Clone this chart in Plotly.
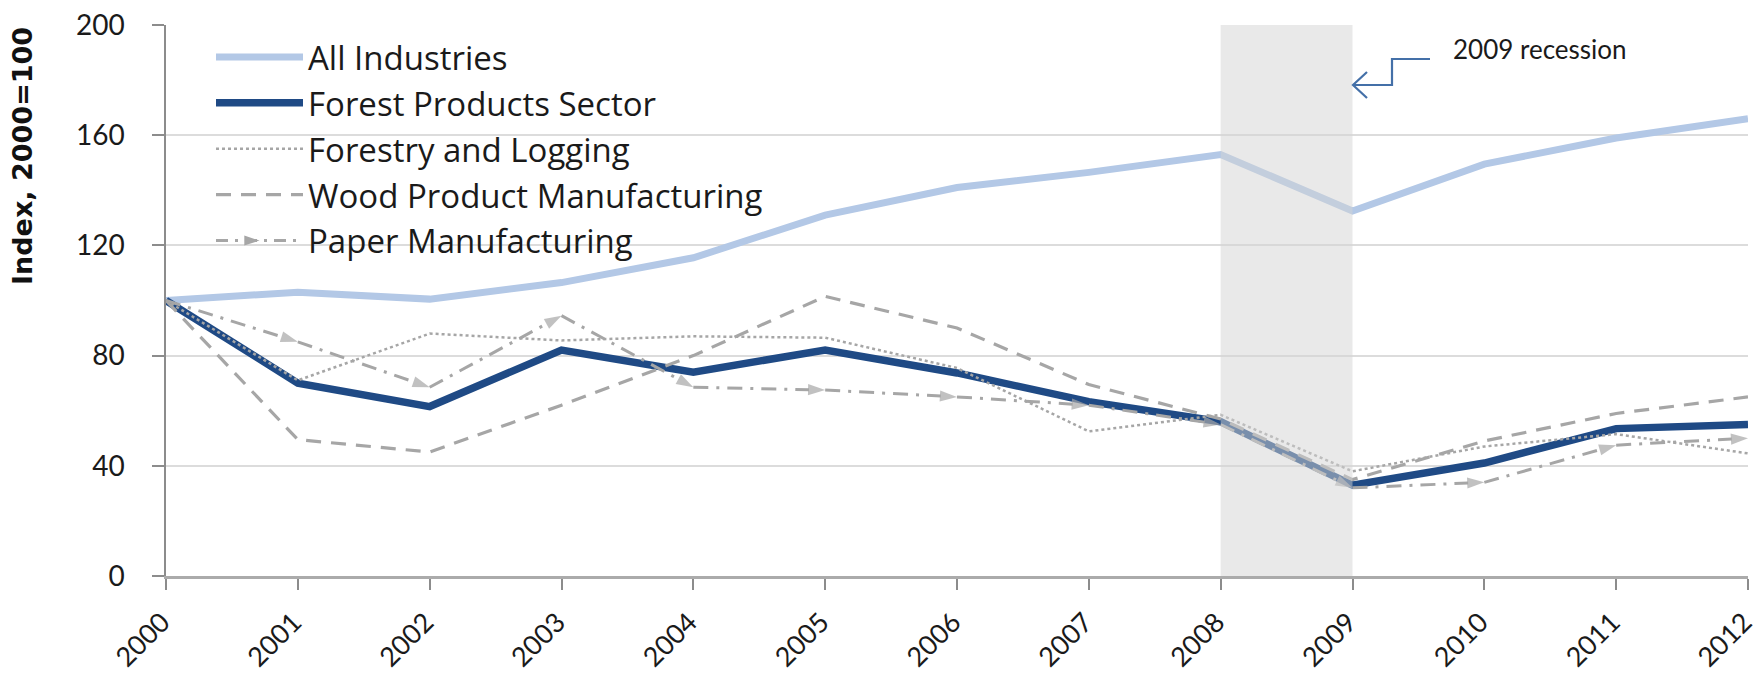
import plotly.graph_objects as go

# Employment index by industry, 2000 = 100
years = [2000, 2001, 2002, 2003, 2004, 2005, 2006, 2007, 2008, 2009, 2010, 2011, 2012]
all_industries = [100, 103, 100.5, 106.5, 115.5, 131, 141, 146.5, 153, 132.5, 149.5, 159, 166]
forest_products = [100, 70, 61.5, 82, 74, 82, 73.7, 63.3, 56, 33, 41, 53.5, 55]
forestry_logging = [100, 71, 88, 85.5, 87, 86.5, 75.5, 52.5, 58.5, 38, 47, 51.5, 44.5]
wood_products = [100, 49.5, 45, 62, 80, 101.5, 90, 69.5, 57, 35, 49, 59, 65]
paper_mfg = [100, 85, 68.5, 94.5, 68.5, 67.5, 65, 62, 55, 32, 34, 47.5, 50]

y_ticks = [0, 40, 80, 120, 160, 200]
recession = (2008, 2009)

W, H = 1760, 687
ML, MR, MT, MB = 166, 12, 25, 111
PW, PH = W - ML - MR, H - MT - MB


def px_x(p):
    return (p - ML) / PW


def px_y(p):
    return (H - MB - p) / PH


GRAY = "#a6a6a6"
FONT = "Lato"

fig = go.Figure()

fig.add_trace(go.Scatter(
    x=years, y=all_industries, name="All Industries", mode="lines",
    line=dict(color="#b3c8e6", width=7), legendgroup="a",
))
fig.add_trace(go.Scatter(
    x=years, y=forest_products, name="Forest Products Sector", mode="lines",
    line=dict(color="#1f4a85", width=7.5), legendgroup="b",
))
fig.add_trace(go.Scatter(
    x=years, y=forestry_logging, name="Forestry and Logging", mode="lines",
    line=dict(color=GRAY, width=2.5, dash="3px,3px"), legendgroup="c",
))
fig.add_trace(go.Scatter(
    x=years, y=wood_products, name="Wood Product Manufacturing", mode="lines",
    line=dict(color=GRAY, width=3.2, dash="15px,10px"), legendgroup="d",
))
# paper series: dash-dot line with an arrowhead at the end of every segment
fig.add_trace(go.Scatter(
    x=years, y=paper_mfg, name="Paper Manufacturing", mode="lines+markers",
    line=dict(color=GRAY, width=3, dash="15px,8px,3px,8px"),
    marker=dict(symbol="arrow", size=[0] + [18] * (len(years) - 1),
                angleref="previous", color=GRAY, line=dict(width=0)),
    showlegend=False, legendgroup="e",
))
# legend entry for the paper series (arrow pointing right)
fig.add_trace(go.Scatter(
    x=[None], y=[None], name="Paper Manufacturing", mode="lines+markers",
    line=dict(color=GRAY, width=3, dash="12px,7px,3px,7px"),
    marker=dict(symbol="arrow", size=17, angle=90, color=GRAY, line=dict(width=0)),
    legendgroup="e",
))

# recession band, semi-transparent over the lines
fig.add_shape(type="rect", xref="x", yref="y",
              x0=recession[0], x1=recession[1], y0=y_ticks[0], y1=y_ticks[-1],
              fillcolor="#d4d4d4", opacity=0.5, line=dict(width=0), layer="above")

# bent callout arrow for the recession label
ARROW = "#4470a8"
path = "M {:.5f},{:.5f} L {:.5f},{:.5f} L {:.5f},{:.5f} L {:.5f},{:.5f}".format(
    px_x(1430), px_y(59), px_x(1392), px_y(59), px_x(1392), px_y(85), px_x(1354), px_y(85))
fig.add_shape(type="path", xref="paper", yref="paper", path=path,
              line=dict(color=ARROW, width=2.2))
head = "M {:.5f},{:.5f} L {:.5f},{:.5f} L {:.5f},{:.5f}".format(
    px_x(1367), px_y(72), px_x(1353), px_y(85), px_x(1367), px_y(98))
fig.add_shape(type="path", xref="paper", yref="paper", path=head,
              line=dict(color=ARROW, width=2.2))

fig.add_annotation(text="2009 recession", xref="paper", yref="paper",
                   x=px_x(1451), y=px_y(49), xanchor="left", yanchor="middle",
                   showarrow=False, font=dict(family=FONT, size=26, color="#1a1a1a"))

fig.add_annotation(text="<b>Index, 2000=100</b>", xref="paper", yref="paper",
                   x=px_x(22), y=px_y(156), xanchor="center", yanchor="middle",
                   textangle=-90, showarrow=False,
                   font=dict(family="DejaVu Sans", size=27, color="#111111"))

fig.update_layout(
    width=W, height=H,
    margin=dict(l=ML, r=MR, t=MT, b=MB, pad=0),
    paper_bgcolor="white", plot_bgcolor="white",
    font=dict(family=FONT, color="#1a1a1a"),
    showlegend=True,
    legend=dict(
        x=px_x(211), y=px_y(29), xanchor="left", yanchor="top",
        bgcolor="rgba(255,255,255,0)", borderwidth=0,
        font=dict(family="Open Sans", size=33, color="#1a1a1a"),
        itemwidth=87, tracegroupgap=0, traceorder="normal",
        itemclick=False,
    ),
    xaxis=dict(
        range=[years[0], years[-1]], tickmode="array", tickvals=years,
        ticktext=[str(y) for y in years], tickangle=-45,
        showgrid=False, zeroline=False, automargin=False,
        showline=True, linecolor="#ababab", linewidth=2.5,
        ticks="outside", ticklen=11, tickwidth=1.5, tickcolor="#8c8c8c",
        tickfont=dict(family=FONT, size=27, color="#1a1a1a"),
        ticklabelstandoff=6, ticklabelshift=-4, ticklabeloverflow="allow",
    ),
    yaxis=dict(
        range=[y_ticks[0], y_ticks[-1]], tickmode="array", tickvals=y_ticks,
        showgrid=True, gridcolor="#dcdcdc", gridwidth=1.5, zeroline=False,
        automargin=False,
        showline=True, linecolor="#8c8c8c", linewidth=1.5,
        ticks="outside", ticklen=12, tickwidth=1.5, tickcolor="#8c8c8c",
        tickfont=dict(family=FONT, size=28, color="#1a1a1a"),
        ticklabelstandoff=22,
    ),
)

fig.write_html("out.html")
